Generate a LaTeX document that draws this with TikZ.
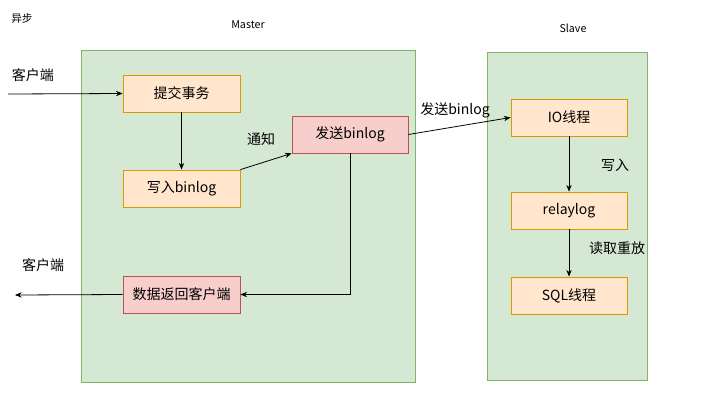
\documentclass[tikz,border=0pt]{standalone}
\usepackage{fontspec}
\setmainfont{Noto Sans CJK SC}
\usetikzlibrary{arrows.meta}
\begin{document}
\begin{tikzpicture}[x=0.75pt,y=-0.75pt,
  grp/.style={draw=green!40!black!60!white,fill=green!15!white,line width=0.6pt},
  ob/.style={draw=orange!80!black,fill=orange!15!white,line width=0.6pt,font=\fontsize{10.5pt}{12pt}\selectfont},
  rb/.style={draw=red!60!black!70!white,fill=red!20!white,line width=0.6pt,font=\fontsize{10.5pt}{12pt}\selectfont},
  lb/.style={font=\fontsize{10.5pt}{12pt}\selectfont},
  ar/.style={-{Stealth[length=5pt,width=4pt]},line width=0.6pt}]
\useasboundingbox (0,0) rectangle (721,404);
\definecolor{gf}{HTML}{D5E8D4}\definecolor{gs}{HTML}{82B366}
\definecolor{of}{HTML}{FFE6CC}\definecolor{os}{HTML}{D79B00}
\definecolor{rf}{HTML}{F8CECC}\definecolor{rs}{HTML}{B85450}
\tikzset{grp/.append style={draw=gs,fill=gf},ob/.append style={draw=os,fill=of},rb/.append style={draw=rs,fill=rf}}
\node[font=\fontsize{8pt}{9pt}\selectfont] (t) at (22,18) {异步};
\node[font=\fontsize{8pt}{9pt}\selectfont] (m) at (248,25) {Master};
\node[font=\fontsize{8pt}{9pt}\selectfont] (s) at (573,28) {Slave};
\draw[grp] (81,50) rectangle (415,382);
\draw[grp] (487,52) rectangle (647,380);
\node[ob,minimum width=87.75pt,minimum height=27.75pt] (a) at (181.5,93.5) {提交事务};
\node[ob,minimum width=87.75pt,minimum height=27.75pt] (b) at (181.5,188.5) {写入binlog};
\node[rb,minimum width=87pt,minimum height=27.75pt] (c) at (350,134.5) {发送binlog};
\node[rb,minimum width=87.75pt,minimum height=27.75pt] (d) at (181.5,294.5) {数据返回客户端};
\node[ob,minimum width=87pt,minimum height=27.75pt] (e) at (569,117.5) {IO线程};
\node[ob,minimum width=87pt,minimum height=27.75pt] (f) at (569,210.5) {relaylog};
\node[ob,minimum width=87pt,minimum height=27.75pt] (g) at (569,295.5) {SQL线程};
\node[lb] (k1) at (33,75) {客户端};
\node[lb] (k2) at (43,265) {客户端};
\coordinate (in) at (8,94);
\coordinate (out) at (15,295);
\draw[ar] (in) -- (a.west);
\draw[ar] (d.west) -- (out);
\draw[ar] (a) -- (b);
\draw[ar] (b.north east) -- (c.south west);
\node[lb] (l1) at (261,139) {通知};
\draw[ar] (c.east) -- (e.west);
\node[lb] (l2) at (455,110) {发送binlog};
\draw[ar] (c.south) |- (d.east);
\draw[ar] (e) -- (f);
\node[lb] (l3) at (615,165) {写入};
\draw[ar] (f) -- (g);
\node[lb] (l4) at (617,248) {读取重放};
\end{tikzpicture}
\end{document}
